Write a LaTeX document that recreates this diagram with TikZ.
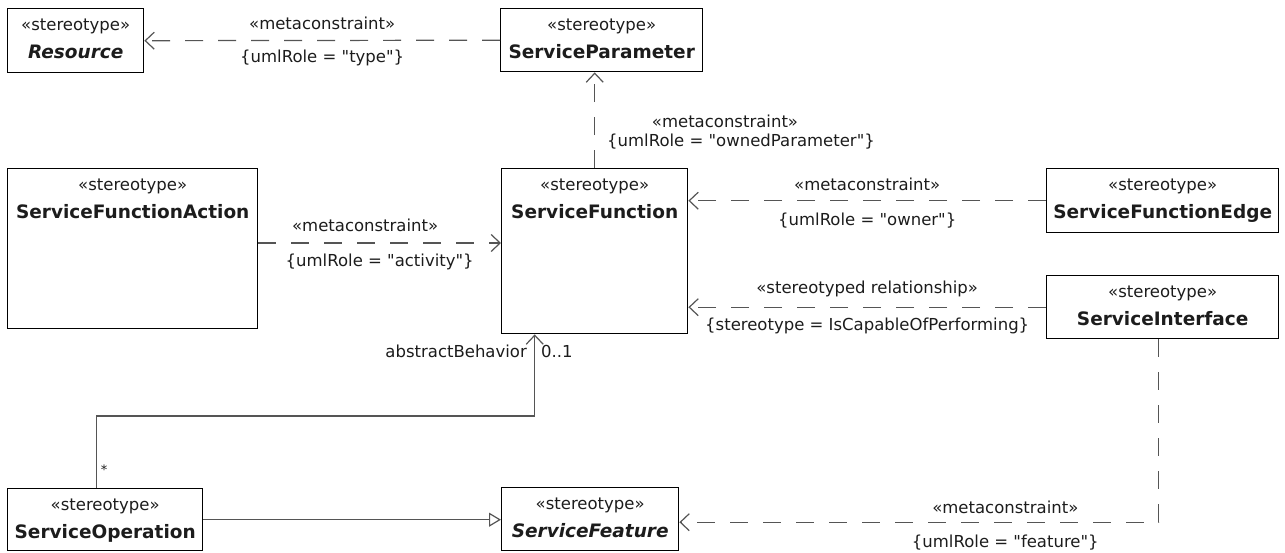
\documentclass[tikz,border=0pt]{standalone}
\usepackage{fontspec}
\setmainfont{DejaVu Sans}[Ligatures=TeXOff]
\usepackage{tikz}
\usetikzlibrary{arrows.meta,positioning}

\definecolor{inkgray}{HTML}{1C1C1C}
\definecolor{linkgray}{HTML}{555555}
\newcommand{\cname}[1]{{\fontsize{18.5}{28}\selectfont\bfseries #1}}

\begin{document}
\begin{tikzpicture}[
  x=1pt, y=-1pt,
  every node/.style={text=inkgray},
  cls/.style={draw=black, line width=1.4pt, anchor=north west, inner sep=0pt},
  head/.style={anchor=north, align=center, inner xsep=2pt, inner ysep=11pt,
               font=\fontsize{16.5}{28}\selectfont},
  lbl/.style={font=\fontsize{16.5}{20}\selectfont, inner sep=1pt},
  dep/.style={draw=linkgray, line width=1.2pt, dash pattern=on 18pt off 15pt,
              -{Straight Barb[length=9pt, width=17pt, line width=1.2pt]}},
  assoc/.style={draw=linkgray, line width=1.2pt,
              -{Straight Barb[length=9pt, width=17pt, line width=1.2pt]}},
  gen/.style={draw=linkgray, line width=1.2pt,
              -{Triangle[open, length=12pt, width=14pt, line width=1.2pt]}},
]
\useasboundingbox (0,0) rectangle (1285,552);

% classes
\node[cls, minimum width=136pt, minimum height=64pt] (res) at (7,8) {};
\node[head] (res-t) at (res.north) {«stereotype»\\\cname{\itshape Resource}};

\node[cls, minimum width=202pt, minimum height=63pt] (sp) at (500,8) {};
\node[head] (sp-t) at (sp.north) {«stereotype»\\\cname{ServiceParameter}};

\node[cls, minimum width=250pt, minimum height=160pt] (sfa) at (7,168) {};
\node[head] (sfa-t) at (sfa.north) {«stereotype»\\\cname{ServiceFunctionAction}};

\node[cls, minimum width=186pt, minimum height=165pt] (sf) at (501,168) {};
\node[head] (sf-t) at (sf.north) {«stereotype»\\\cname{ServiceFunction}};

\node[cls, minimum width=232pt, minimum height=64pt] (sfe) at (1046,168) {};
\node[head] (sfe-t) at (sfe.north) {«stereotype»\\\cname{ServiceFunctionEdge}};

\node[cls, minimum width=232pt, minimum height=63pt] (si) at (1046,275) {};
\node[head] (si-t) at (si.north) {«stereotype»\\\cname{ServiceInterface}};

\node[cls, minimum width=195pt, minimum height=62pt] (so) at (7,488) {};
\node[head] (so-t) at (so.north) {«stereotype»\\\cname{ServiceOperation}};

\node[cls, minimum width=177pt, minimum height=63pt] (sft) at (501,487) {};
\node[head] (sft-t) at (sft.north) {«stereotype»\\\cname{\itshape ServiceFeature}};

% metaconstraints
\draw[dep] (sp.west) -- (res.east)
  node[lbl, midway, yshift=17pt] (c-type-a) {«metaconstraint»}
  node[lbl, midway, yshift=-17pt] (c-type-b) {\{umlRole = "type"\}};

\draw[dep] (sf.north) -- (sf.north |- sp.south);
\node[lbl] (c-own-a) at (725,121) {«metaconstraint»};
\node[lbl] (c-own-b) at (741,142) {\{umlRole = "ownedParameter"\}};

\draw[dep] ([yshift=-75pt]sfa.north east) -- ([yshift=-75pt]sfa.north east -| sf.west)
  node[lbl, pos=0.44, yshift=18pt] (c-act-a) {«metaconstraint»}
  node[lbl, midway, yshift=-19pt] (c-act-b) {\{umlRole = "activity"\}};

\draw[dep] (sfe.west) -- (sfe.west -| sf.east)
  node[lbl, midway, yshift=16pt] (c-owner-a) {«metaconstraint»}
  node[lbl, midway, yshift=-20pt] (c-owner-b) {\{umlRole = "owner"\}};

\draw[dep] (si.west) -- (si.west -| sf.east)
  node[lbl, midway, yshift=18pt] (c-cap-a) {«stereotyped relationship»}
  node[lbl, midway, yshift=-19pt] (c-cap-b) {\{stereotype = IsCapableOfPerforming\}};

\draw[dep] ([xshift=-4pt]si.south) |- ([yshift=-3pt]sft.east)
  node[lbl, pos=0.66, yshift=15pt] (c-feat-a) {«metaconstraint»}
  node[lbl, pos=0.66, yshift=-20pt] (c-feat-b) {\{umlRole = "feature"\}};

% association and generalization
\draw[assoc] ([xshift=-8.5pt]so.north) -- ++(0,-72) -| ([xshift=-60pt]sf.south);
\node[lbl, anchor=east] (ab) at (528,351) {abstractBehavior};
\node[lbl, anchor=west] (m-one) at (540,351) {0..1};
\node[lbl, font=\fontsize{13}{14}\selectfont] (m-many) at (104,470) {*};

\draw[gen] (so.east) -- (so.east -| sft.west);

\end{tikzpicture}
\end{document}
